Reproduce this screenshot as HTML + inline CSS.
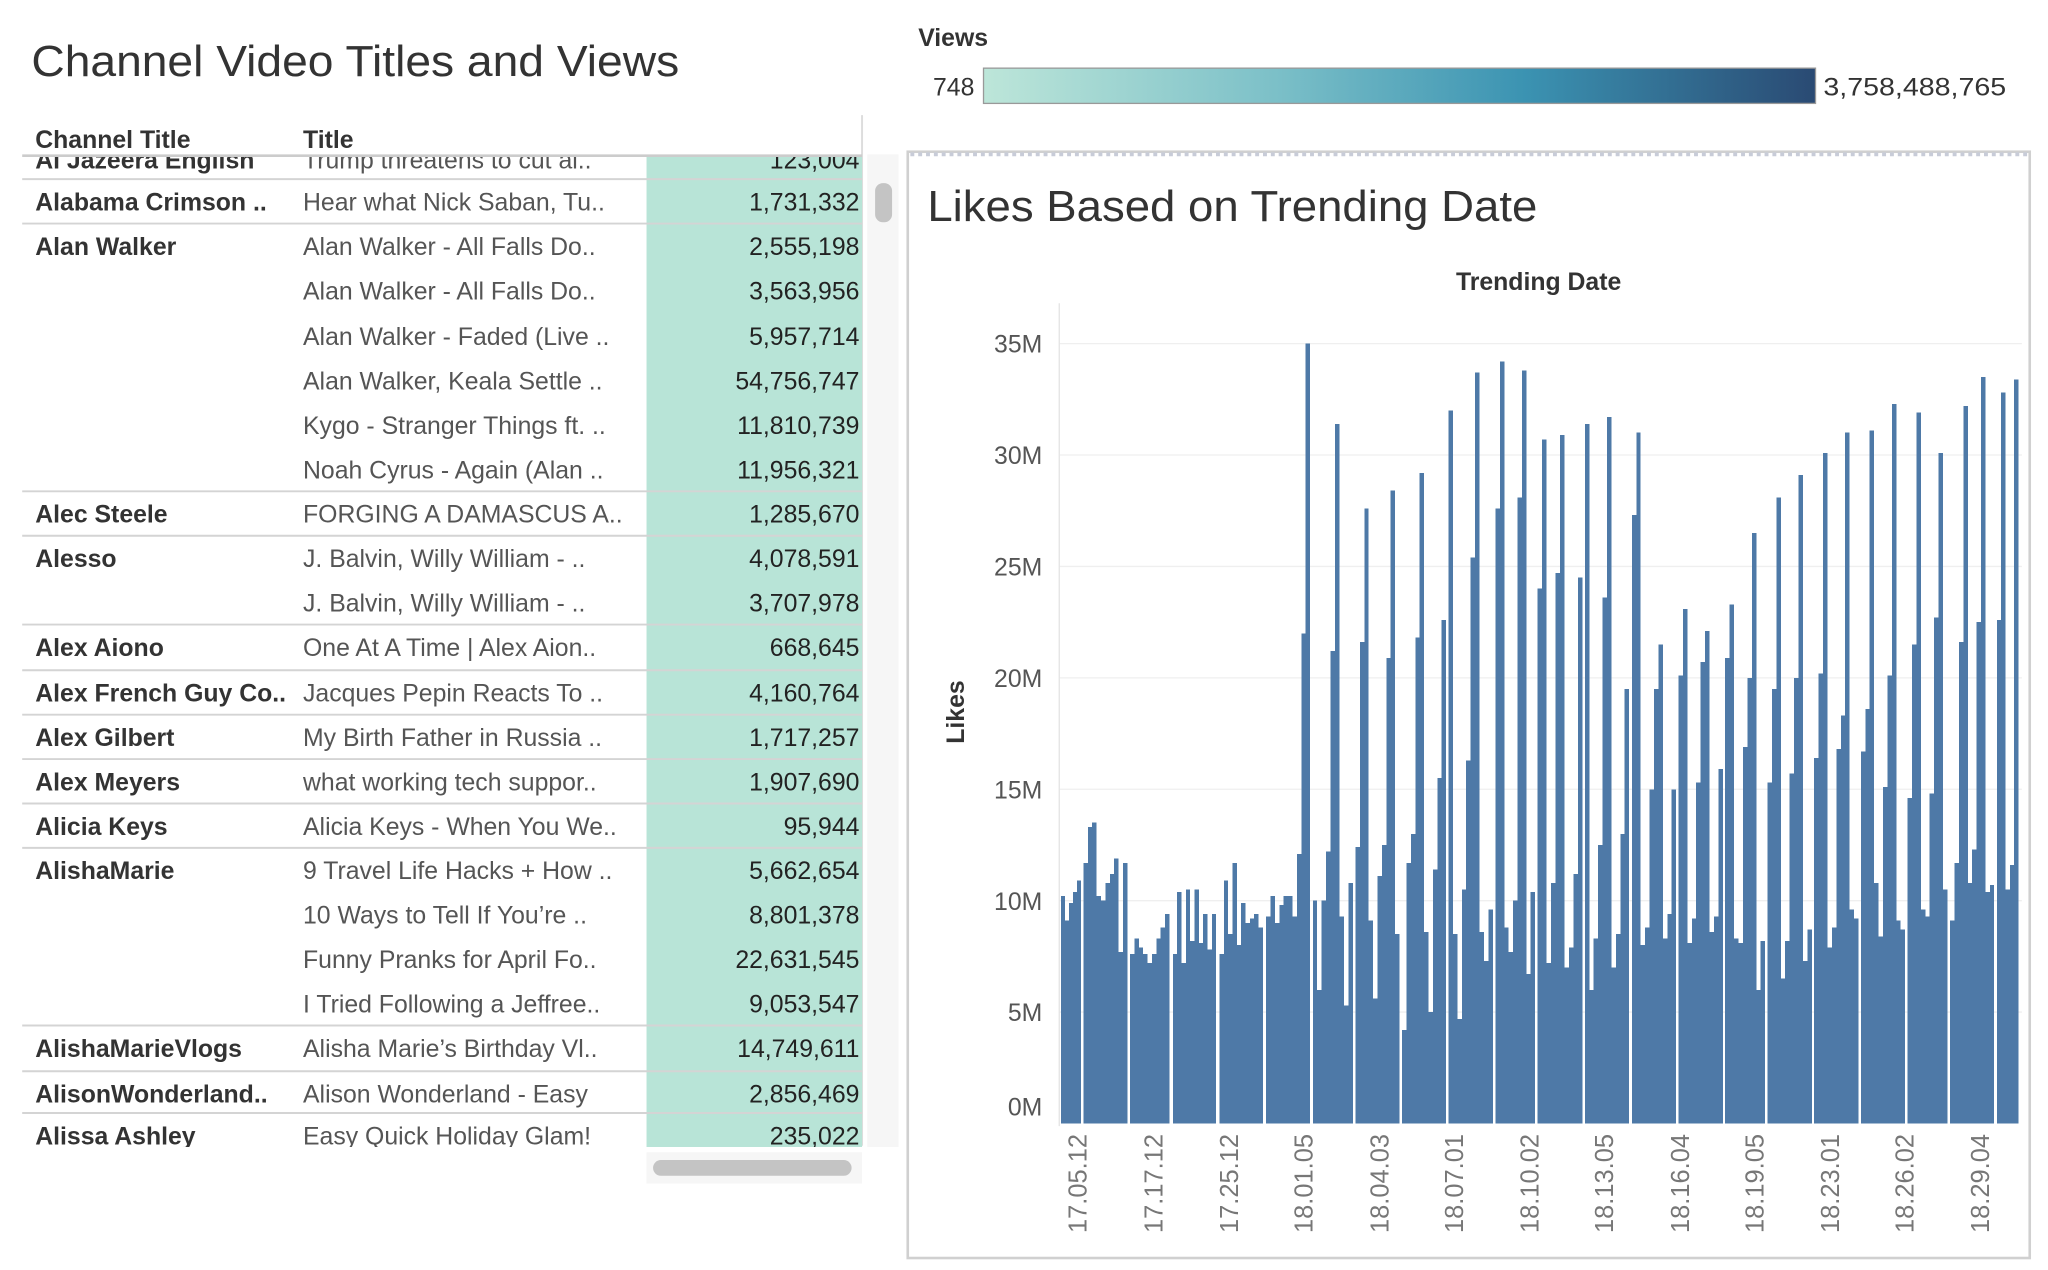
<!DOCTYPE html>
<html><head><meta charset="utf-8"><style>
html,body{margin:0;padding:0;background:#fff;}
svg{display:block;font-family:"Liberation Sans",sans-serif;}
.ch{font-weight:bold;fill:#333;font-size:19px;}
.ti{fill:#555;font-size:19px;}
.nu{fill:#222;font-size:19px;text-anchor:end;}
.yl{fill:#555;font-size:19px;text-anchor:end;}
.xl{fill:#777;font-size:19.5px;}
</style></head><body>
<svg id="s" width="2048" height="1270" viewBox="0 0 1568 972" xmlns="http://www.w3.org/2000/svg">
<defs>
<linearGradient id="g" x1="0" x2="1" y1="0" y2="0">
<stop offset="0" stop-color="#bde6d9"/><stop offset="0.35" stop-color="#7cc0c8"/><stop offset="0.65" stop-color="#3b93b2"/><stop offset="1" stop-color="#2a4a73"/>
</linearGradient>
<clipPath id="tc"><rect x="0" y="120" width="662" height="758"/></clipPath>
</defs>
<text x="24" y="58" font-size="33" fill="#333" textLength="496" lengthAdjust="spacingAndGlyphs">Channel Video Titles and Views</text>
<text x="703" y="35" font-size="19" font-weight="bold" fill="#333">Views</text>
<text x="746" y="73" font-size="19" fill="#333" text-anchor="end">748</text>
<rect x="753" y="52" width="637" height="27" fill="url(#g)" stroke="#999" stroke-width="1"/>
<text x="1396" y="73" font-size="19" fill="#333" textLength="140" lengthAdjust="spacingAndGlyphs">3,758,488,765</text>
<text x="27" y="113" class="ch">Channel Title</text>
<text x="232" y="113" class="ch">Title</text>
<line x1="660" y1="88" x2="660" y2="877" stroke="#ddd" stroke-width="1.5"/>
<g clip-path="url(#tc)" id="tbl">
<rect x="495" y="118" width="165" height="770" fill="#b8e4d7"/>
</g>
<line x1="17" y1="119" x2="660" y2="119" stroke="#ccc" stroke-width="2"/>
<rect x="664" y="118" width="24" height="760" fill="#f6f6f6"/>
<rect x="670" y="140" width="13" height="30" rx="6" fill="#c4c4c4"/>
<rect x="495" y="882" width="165" height="24" fill="#f6f6f6"/>
<rect x="500" y="888" width="152" height="12" rx="6" fill="#c4c4c4"/>
<rect x="695" y="116" width="859" height="847" fill="none" stroke="#d0d0d0" stroke-width="2"/>
<line x1="697" y1="118" x2="1552" y2="118" stroke="#c8ccd8" stroke-width="3" stroke-dasharray="3,3"/>
<text x="710" y="169" font-size="33" fill="#333" textLength="467" lengthAdjust="spacingAndGlyphs">Likes Based on Trending Date</text>
<text x="1178" y="222" font-size="19" font-weight="bold" fill="#333" text-anchor="middle">Trending Date</text>
<text transform="translate(738,545) rotate(-90)" font-size="19" font-weight="bold" fill="#333" text-anchor="middle">Likes</text>
<g id="grid"></g>
<line x1="811" y1="232" x2="811" y2="862" stroke="#e4e4e4" stroke-width="1"/>
<g id="bars" fill="#4e79a7" shape-rendering="crispEdges"></g>
<g id="xl"></g>
</svg>
<script>
var NS="http://www.w3.org/2000/svg",s=document.getElementById('s');
function el(p,t,a,txt){var e=document.createElementNS(NS,t);for(var k in a)e.setAttribute(k,a[k]);if(txt!=null)e.textContent=txt;p.appendChild(e);return e;}
var grid=document.getElementById('grid');
var yl=['0M','5M','10M','15M','20M','25M','30M','35M'];
for(var i=0;i<8;i++){var y=860-i*85.3;if(i>0)el(grid,'line',{x1:811,x2:1548,y1:y,y2:y,stroke:'#efefef','stroke-width':1});
el(grid,'text',{x:798,y:(i==0?854:y+7),'class':'yl'},yl[i]);}
var G=[[32,92,[10.2,9.1,9.9,10.4,10.9]],[100,232,[11.7,13.3,13.5,10.2,10,10.8,11.2,11.9,7.7,11.7]],[240,358,[7.6,8.3,7.9,7.6,7.2,7.6,8.3,8.8,9.4]],[368,498,[7.6,10.4,7.2,10.5,8.2,10.5,8.1,9.4,7.8,9.4]],[508,638,[7.6,10.9,8.5,11.7,8,9.9,9,9.2,9.4,8.8]],[648,780,[9.3,10.2,9,9.8,10.2,10.2,9.3,12.1,22,35]],[788,908,[10,6,10,12.2,21.2,31.4,9.3,5.3,10.8]],[916,1048,[12.4,21.6,27.6,9.1,5.6,11.1,12.5,20.9,28.4,8.5]],[1056,1188,[4.2,11.7,13,21.8,29.2,8.6,5,11.4,15.5,22.6]],[1195,1328,[32,8.5,4.7,10.5,16.3,25.4,33.7,8.6,7.3,9.6]],[1336,1455,[27.6,34.2,8.8,7.7,10,28.1,33.8,6.7,10.4]],[1462,1597,[24,30.7,7.2,10.8,24.7,30.9,7,7.9,11.2,24.5]],[1604,1737,[31.4,6,8.3,12.5,23.6,31.7,7,8.5,13,19.5]],[1745,1878,[27.3,31,8,8.8,15,19.5,21.5,8.3,9.4,15]],[1885,2018,[20.1,23.1,8.1,9.2,15.3,20.7,22.1,8.6,9.3,15.9]],[2025,2145,[20.9,23.3,8.3,8.1,16.9,20,26.5,6,8.2]],[2152,2285,[15.3,19.5,28.1,6.5,8.2,15.7,20,29.1,7.3,8.7]],[2292,2425,[16.4,20.2,30.1,7.9,8.8,16.8,18.3,31,9.6,9.2]],[2432,2565,[16.7,18.6,31.1,10.8,8.4,15.1,20.1,32.3,9.1,8.7]],[2572,2692,[14.6,21.5,31.9,9.6,9.3,14.8,22.7,30.1,10.5]],[2700,2832,[9.1,11.7,21.6,32.2,10.8,12.3,22.5,33.5,10.4,10.7]],[2840,2905,[22.6,32.8,10.5,11.6,33.4]]];
var bars=document.getElementById('bars');
function X(z){return (1050+z/3)/1.306;}
G.forEach(function(g){var a=X(g[0]),b=X(g[1]),n=g[2].length,w=(b-a)/n,d='';
g[2].forEach(function(v,i){var h=v*17.06,x0=a+i*w;d+='M'+x0.toFixed(2)+' 860V'+(860-h).toFixed(2)+'H'+(x0+w).toFixed(2)+'V860Z';});
el(bars,'path',{d:d});});
var xg=document.getElementById('xl');
var xs=[[826,'17.05.12'],[884,'17.17.12'],[942,'17.25.12'],[999,'18.01.05'],[1057,'18.04.03'],[1114,'18.07.01'],[1172,'18.10.02'],[1229,'18.13.05'],[1287,'18.16.04'],[1344,'18.19.05'],[1402,'18.23.01'],[1459,'18.26.02'],[1517,'18.29.04']];
xs.forEach(function(t){el(xg,'text',{transform:'translate('+(t[0]+6)+',868) rotate(-90)','class':'xl','text-anchor':'end'},t[1]);});
var tbl=document.getElementById('tbl');
var R=[[122,'Al Jazeera English','Trump threatens to cut ai..','123,004'],[154,'Alabama Crimson ..','Hear what Nick Saban, Tu..','1,731,332'],[188,'Alan Walker','Alan Walker - All Falls Do..','2,555,198'],[222,'','Alan Walker - All Falls Do..','3,563,956'],[257,'','Alan Walker - Faded (Live ..','5,957,714'],[291,'','Alan Walker, Keala Settle ..','54,756,747'],[325,'','Kygo - Stranger Things ft. ..','11,810,739'],[359,'','Noah Cyrus - Again (Alan ..','11,956,321'],[393,'Alec Steele','FORGING A DAMASCUS A..','1,285,670'],[427,'Alesso','J. Balvin, Willy William - ..','4,078,591'],[461,'','J. Balvin, Willy William - ..','3,707,978'],[495,'Alex Aiono','One At A Time | Alex Aion..','668,645'],[530,'Alex French Guy Co..','Jacques Pepin Reacts To ..','4,160,764'],[564,'Alex Gilbert','My Birth Father in Russia ..','1,717,257'],[598,'Alex Meyers','what working tech suppor..','1,907,690'],[632,'Alicia Keys','Alicia Keys - When You We..','95,944'],[666,'AlishaMarie','9 Travel Life Hacks + How ..','5,662,654'],[700,'','10 Ways to Tell If You\u2019re ..','8,801,378'],[734,'','Funny Pranks for April Fo..','22,631,545'],[768,'','I Tried Following a Jeffree..','9,053,547'],[802,'AlishaMarieVlogs','Alisha Marie\u2019s Birthday Vl..','14,749,611'],[837,'AlisonWonderland..','Alison Wonderland - Easy','2,856,469'],[869,'Alissa Ashley','Easy Quick Holiday Glam!','235,022']];
R.forEach(function(r,i){
if(r[1]){ if(i>0){var ly=i==1?137:r[0]-17;el(tbl,'line',{x1:17,x2:660,y1:ly,y2:ly,stroke:'#d4d4d4','stroke-width':1.5});}
 el(tbl,'text',{x:27,y:r[0]+7,'class':'ch'},r[1]);}
el(tbl,'text',{x:232,y:r[0]+7,'class':'ti'},r[2]);
el(tbl,'text',{x:658,y:r[0]+7,'class':'nu'},r[3]);});
</script>
</body></html>
